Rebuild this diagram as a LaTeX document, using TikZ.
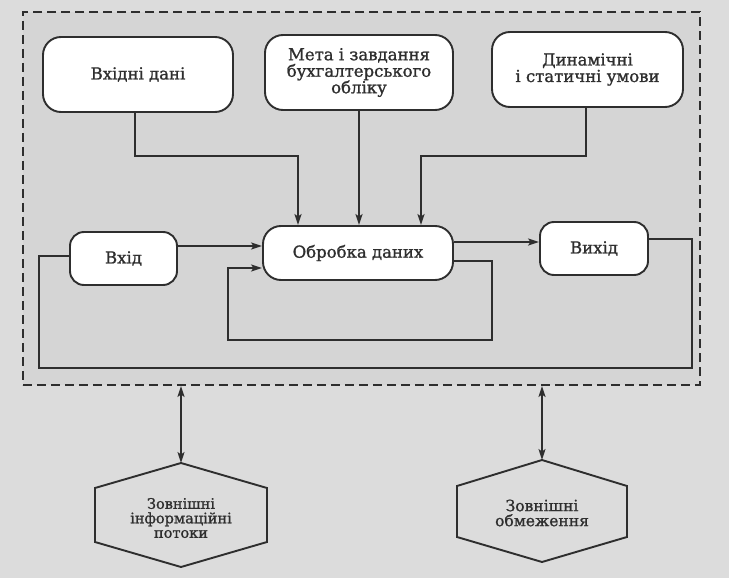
\documentclass[tikz,border=0pt]{standalone}
\usepackage{fontspec}
\setmainfont{DejaVu Serif}[FakeBold=1.2]
\usetikzlibrary{arrows.meta,calc}
\definecolor{paper}{HTML}{DCDCDC}
\definecolor{inner}{HTML}{D5D5D5}
\definecolor{ink}{HTML}{2E2E2E}
\begin{document}
\begin{tikzpicture}[x=1pt,y=-1pt,
  sysbox/.style={draw=ink, line width=1.9pt, dash pattern=on 9pt off 5pt, fill=inner, inner sep=0pt},
  box/.style={draw=ink, line width=1.9pt, fill=white, rounded corners=18pt, align=center, inner sep=0pt, text=ink, font=\fontsize{16.5}{16.5}\selectfont},
  hextext/.style={align=center, inner sep=0pt, text=ink, font=\fontsize{14.5}{14.5}\selectfont},
  hexline/.style={draw=ink, line width=1.9pt, line join=miter},
  conn/.style={draw=ink, line width=1.7pt},
  arr/.style={conn, -{Stealth[length=11pt,width=7pt,inset=2.5pt]}},
  arrboth/.style={conn, {Stealth[length=11pt,width=7pt,inset=2.5pt]}-{Stealth[length=11pt,width=7pt,inset=2.5pt]}}]
\fill[paper] (0,0) rectangle (729,578);
\useasboundingbox (0,0) rectangle (729,578);
% system boundary
\node[sysbox, minimum width=677pt, minimum height=373pt] (sys) at (361.5,198.5) {};
% top boxes
\node[box, minimum width=190pt, minimum height=75pt] (in1) at (138,74.5) {Вхідні дані};
\node[box, minimum width=188pt, minimum height=75pt] (in2) at (359,72.5) {Мета і завдання\\бухгалтерського\\обліку};
\node[box, minimum width=191pt, minimum height=75pt] (in3) at (587.5,69.5) {Динамічні\\і статичні умови};
% middle row
\node[box, minimum width=107pt, minimum height=53pt, rounded corners=14pt] (vhid) at (123.5,258.5) {Вхід};
\node[box, minimum width=190pt, minimum height=54pt, rounded corners=18pt] (obr) at (358,253) {Обробка даних};
\node[box, minimum width=108pt, minimum height=53pt, rounded corners=14pt] (vyh) at (594,248.5) {Вихід};
% connectors from top boxes
\draw[arr] ([xshift=-3pt]in1.south) -- ++(0,43) -| ([xshift=-60pt]obr.north);
\draw[arr] (in2.south) -- (in2.south |- obr.north);
\draw[arr] ([xshift=-1.5pt]in3.south) -- ++(0,48) -| ([xshift=63pt]obr.north);
% main flow
\draw[arr] ([yshift=12.5pt]vhid.east) -- ([yshift=12.5pt]vhid.east -| obr.west);
\draw[arr] ([yshift=11pt]obr.east) -- ([yshift=11pt]obr.east -| vyh.west);
% processing loop
\coordinate (lpA) at (492,340);
\coordinate (lpB) at (228,340);
\draw[arr] ([yshift=-8pt]obr.east) -| (lpA) -- (lpB) |- ([yshift=-15pt]obr.west);
% feedback loop
\coordinate (fbA) at (692,368);
\coordinate (fbB) at (39,368);
\draw[conn] ([yshift=9.5pt]vyh.east) -| (fbA) -- (fbB) |- ([yshift=2.5pt]vhid.west);
% hexagons
\node[hextext] (h1) at (181,518) {Зовнішні\\інформаційні\\потоки};
\draw[hexline] ($(h1.center)+(0,-55)$) -- ++(86,25) -- ++(0,54) -- ++(-86,25) -- ++(-86,-25) -- ++(0,-54) -- cycle;
\coordinate (h1top) at ($(h1.center)+(0,-55)$);
\node[hextext, font=\fontsize{15.5}{15}\selectfont] (h2) at (542,513) {Зовнішні\\обмеження};
\draw[hexline] ($(h2.center)+(0,-53)$) -- ++(85,26) -- ++(0,51) -- ++(-85,25) -- ++(-85,-25) -- ++(0,-51) -- cycle;
\coordinate (h2top) at ($(h2.center)+(0,-53)$);
% external links
\draw[arrboth] (h1top) -- (h1top |- sys.south);
\draw[arrboth] (h2top) -- (h2top |- sys.south);
\end{tikzpicture}
\end{document}
